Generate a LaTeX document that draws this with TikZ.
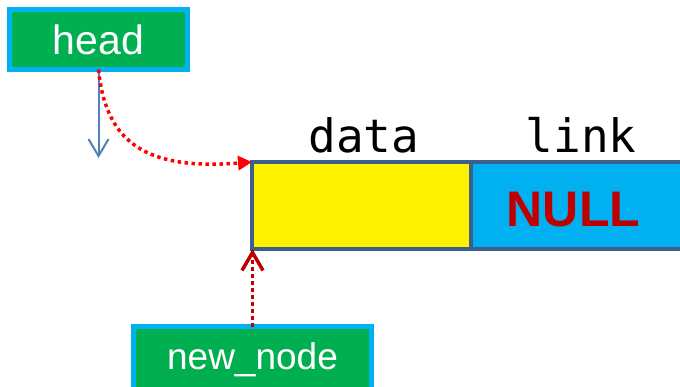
\documentclass[tikz,border=0pt]{standalone}
\usepackage{fontspec}
\setmainfont{Liberation Sans}
\setmonofont{DejaVu Sans Mono}
\usetikzlibrary{arrows.meta,positioning}
\definecolor{boxgreen}{RGB}{0,176,80}
\definecolor{boxcyan}{RGB}{0,176,240}
\definecolor{cellborder}{RGB}{60,95,140}
\definecolor{darkred}{RGB}{192,0,0}
\definecolor{headblue}{RGB}{79,129,189}

\begin{document}
\begin{tikzpicture}[x=1pt,y=1pt,thick]
	\tikzstyle{every node} = [align=center,inner sep=0pt,outer sep=0pt]
	\tikzstyle{pointer} = [draw=boxcyan,line width=5pt,fill=boxgreen,text=white,minimum width=178pt,minimum height=60pt,font=\fontsize{41}{41}\selectfont]
	\tikzstyle{field} = [draw=cellborder,line width=4pt,minimum height=87pt]
	\tikzstyle{fieldname} = [anchor=base,font=\ttfamily\fontsize{46}{46}\selectfont]
	\tikzstyle{link dots} = [line width=3.5pt,dash pattern=on 3.5pt off 3.5pt]
	
	\useasboundingbox (0,0) rectangle (680,386);
	
	\node[pointer] (head) at (98.5,346.5) {head};
	\node[pointer,minimum width=238pt,minimum height=66pt,font=\fontsize{37}{37}\selectfont] (newnode) at (252.5,26.5) {new\_node};
	
	\node[field,fill=boxcyan,minimum width=230pt,anchor=west] (linkfield) at (471,180.5) {};
	\node[field,fill=yellow,minimum width=219pt] (datafield) at (361.5,180.5) {};
	
	\node[fieldname] (datalabel) at (364,233) {data};
	\node[fieldname] (linklabel) at (581,233) {link};
	\node[anchor=base,text=darkred,font=\bfseries\fontsize{50}{50}\selectfont] (nulltext) at (573.5,159) {NULL};
	
	\coordinate (headtip) at (97,228);
	\draw [headblue,line width=2pt,-{Straight Barb[length=17pt,width=20pt]}] (head.south) -- (head.south |- headtip);
	\draw [red,link dots,-{Triangle[length=14pt,width=14pt]}] (head.south) .. controls (106,240) and (150,216) .. (datafield.north west);
	\draw [darkred,link dots,-{Straight Barb[length=18pt,width=21pt]}] (newnode.north) -- (newnode.north |- datafield.south west);
\end{tikzpicture}
\end{document}
